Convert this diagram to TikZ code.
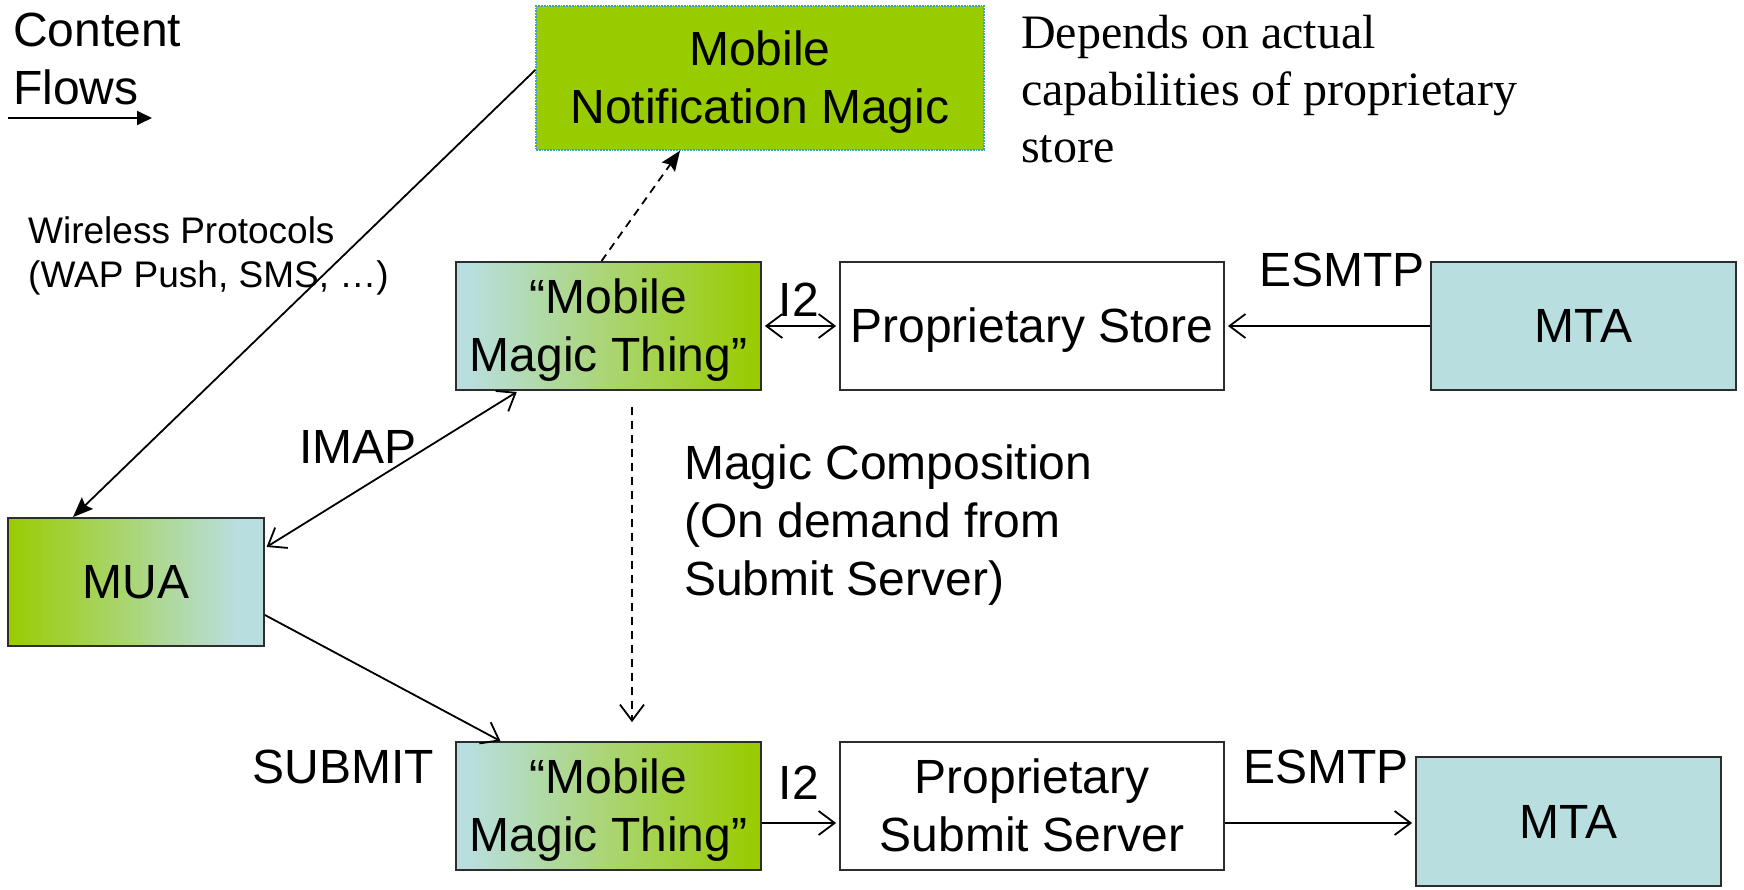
\documentclass[tikz,border=0pt]{standalone}
\usepackage{fontspec}
\setmainfont{Liberation Sans}
\newfontfamily\timesfont{Liberation Serif}
\usetikzlibrary{arrows.meta,calc}
\definecolor{mgreen}{RGB}{153,204,0}
\definecolor{mblue}{RGB}{185,222,224}
\definecolor{bordergray}{RGB}{45,45,45}
\definecolor{dotteal}{RGB}{60,160,190}
\pgfdeclarehorizontalshading{bluegreen}{100bp}{color(0bp)=(mblue); color(27bp)=(mblue); color(74bp)=(mgreen); color(100bp)=(mgreen)}
\pgfdeclarehorizontalshading{greenblue}{100bp}{color(0bp)=(mgreen); color(25bp)=(mgreen); color(70bp)=(mblue); color(100bp)=(mblue)}
\newcommand{\pptstrut}{\rule[-10.2pt]{0pt}{53.6pt}}
\begin{document}
\begin{tikzpicture}[x=1pt,y=-1pt,
  boxbase/.style={draw=bordergray, line width=1.8pt, align=center, inner sep=0pt,
    font=\fontsize{48}{57.6}\selectfont, minimum height=128pt},
  plainbox/.style={boxbase, fill=white, minimum width=384pt},
  mtabox/.style={boxbase, fill=mblue, minimum width=305pt},
  mmtbox/.style={boxbase, shade, shading=bluegreen, minimum width=305pt},
  muabox/.style={boxbase, shade, shading=greenblue, minimum width=256pt},
  notebox/.style={boxbase, fill=mgreen, draw=dotteal, densely dotted, line width=1.5pt,
    minimum width=448pt, minimum height=144pt},
  lbl/.style={inner sep=0pt, font=\fontsize{48}{57.6}\selectfont},
  smalllbl/.style={inner sep=0pt, font=\fontsize{37}{44}\selectfont},
  seriflbl/.style={inner sep=0pt, font=\timesfont\fontsize{48}{57}\selectfont},
  conn/.style={line width=1.8pt, draw=black},
  openhead/.style={-{Straight Barb[length=16pt,width=24pt]}},
  bothopen/.style={{Straight Barb[length=16pt,width=24pt]}-{Straight Barb[length=16pt,width=24pt]}},
  filledhead/.style={-{Stealth[length=20pt,width=16pt,inset=3pt]}},
  dashline/.style={dash pattern=on 8pt off 6pt}
]
\useasboundingbox (0,0) rectangle (1744,890);

% boxes
\node[notebox] (mnm) at (760,78) {\pptstrut Mobile\\\pptstrut Notification Magic};
\node[mmtbox] (mmt1) at (608.5,326) {\pptstrut “Mobile\\\pptstrut Magic Thing”};
\node[plainbox] (ps) at (1032,326) {\pptstrut Proprietary Store};
\node[mtabox] (mta1) at (1583.5,326) {\pptstrut MTA};
\node[muabox] (mua) at (136,582) {\pptstrut MUA};
\node[mmtbox] (mmt2) at (608.5,806) {\pptstrut “Mobile\\\pptstrut Magic Thing”};
\node[plainbox] (pss) at (1032,806) {\pptstrut Proprietary\\\pptstrut Submit Server};
\node[mtabox, minimum height=129pt] (mta2) at (1568.5,821.5) {\pptstrut MTA};

% labels
\node[lbl, anchor=north west, align=left] (cf) at (13,13) {Content\\Flows};
\coordinate (cfa) at (8,118);
\coordinate (cfb) at (152,118);
\node[seriflbl, anchor=north west, align=left] (dep) at (1021,15) {Depends on actual\\capabilities of proprietary\\store};
\node[smalllbl, anchor=north west, align=left] (wp) at (28,216) {Wireless Protocols\\(WAP Push, SMS, …)};
\node[lbl] (i2a) at (799,300) {I2};
\node[lbl] (esa) at (1342,270) {ESMTP};
\node[lbl] (imap) at (358,447) {IMAP};
\node[lbl, anchor=north west, align=left] (mc) at (684,445) {Magic Composition\\(On demand from\\Submit Server)};
\node[lbl] (sub) at (343,767) {SUBMIT};
\node[lbl] (i2b) at (799,783) {I2};
\node[lbl] (esb) at (1326,767) {ESMTP};

% connectors
\draw[conn, -{Triangle[length=15pt,width=14pt]}] (cfa) -- (cfb);
\draw[conn, filledhead] ([yshift=8pt]mnm.west) -- ([xshift=-63pt]mua.north);
\draw[conn, filledhead, dashline] ([xshift=-7pt]mmt1.north) -- ([xshift=-80pt]mnm.south);
\draw[conn, bothopen, shorten <=3pt, shorten >=3pt] (mmt1.east) -- (ps.west);
\draw[conn, openhead, shorten >=3pt] (mta1.west) -- (ps.east);
\draw[conn, bothopen, shorten <=2pt, shorten >=2pt] ([yshift=34pt]mua.east) -- ([xshift=-90pt]mmt1.south);
\draw[conn, openhead, dashline, shorten <=16pt, shorten >=19pt] ([xshift=23.5pt]mmt1.south) -- ([xshift=23.5pt]mmt2.north);
\draw[conn, openhead] ([yshift=-33pt]mua.east) -- ([xshift=-108pt]mmt2.north);
\draw[conn, openhead, shorten >=3pt] ([yshift=-17pt]mmt2.east) -- ([yshift=-17pt]pss.west);
\draw[conn, openhead, shorten >=3pt] ([yshift=-17pt]pss.east) -- ([yshift=-1.5pt]mta2.west);
\end{tikzpicture}
\end{document}
